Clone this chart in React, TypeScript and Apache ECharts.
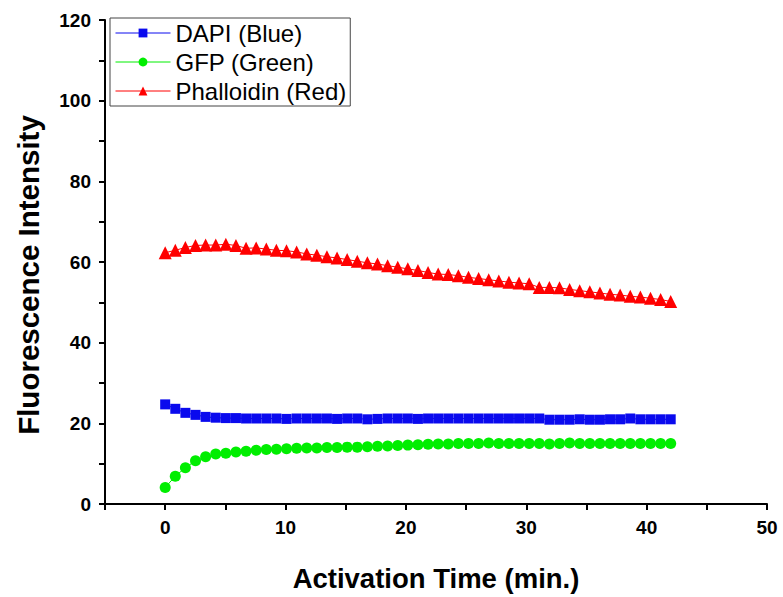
import React, { useEffect, useRef } from "react";
import * as echarts from "echarts";

const times = [
  0, 0.84, 1.68, 2.52, 3.36, 4.2, 5.04, 5.88, 6.72, 7.56,
  8.4, 9.24, 10.08, 10.92, 11.76, 12.6, 13.44, 14.28, 15.12, 15.96,
  16.8, 17.64, 18.48, 19.32, 20.16, 21.0, 21.84, 22.68, 23.52, 24.36,
  25.2, 26.04, 26.88, 27.72, 28.56, 29.4, 30.24, 31.08, 31.92, 32.76,
  33.6, 34.44, 35.28, 36.12, 36.96, 37.8, 38.64, 39.48, 40.32, 41.16, 42.0,
];

const dapi = [
  24.7, 23.6, 22.6, 22.1, 21.6, 21.4, 21.3, 21.3, 21.2, 21.2,
  21.2, 21.2, 21.1, 21.2, 21.2, 21.2, 21.2, 21.1, 21.2, 21.2,
  21.0, 21.1, 21.2, 21.2, 21.2, 21.1, 21.2, 21.2, 21.2, 21.2,
  21.2, 21.2, 21.2, 21.2, 21.2, 21.2, 21.2, 21.2, 20.9, 20.9,
  20.9, 21.0, 20.9, 20.9, 21.0, 21.0, 21.2, 21.0, 21.0, 21.0, 21.0,
];

const gfp = [
  4.1, 6.9, 9.0, 10.7, 11.7, 12.4, 12.6, 12.9, 13.1, 13.3,
  13.5, 13.6, 13.7, 13.8, 13.9, 13.9, 14.0, 14.0, 14.1, 14.1,
  14.2, 14.3, 14.4, 14.5, 14.6, 14.7, 14.8, 14.9, 14.9, 15.0,
  15.0, 15.0, 15.1, 15.0, 15.0, 15.0, 15.0, 15.0, 14.9, 15.0,
  15.1, 15.0, 15.0, 15.0, 15.0, 15.0, 15.0, 15.0, 15.0, 15.0, 15.0,
];

const phalloidin = [
  62.3, 62.9, 63.6, 64.1, 64.2, 64.2, 64.4, 64.1, 63.4, 63.5,
  63.2, 62.9, 62.8, 62.5, 62.0, 61.7, 61.3, 61.0, 60.6, 60.2,
  59.8, 59.5, 59.1, 58.7, 58.3, 57.9, 57.4, 57.0, 56.9, 56.6,
  56.2, 55.9, 55.6, 55.3, 55.0, 54.8, 54.6, 53.7, 53.7, 53.6,
  53.2, 52.9, 52.6, 52.3, 52.0, 51.8, 51.5, 51.3, 51.0, 50.7, 50.2,
];

const seriesNames = ["DAPI (Blue)", "GFP (Green)", "Phalloidin (Red)"];
const xAxisTitle = "Activation Time (min.)";
const yAxisTitle = "Fluorescence Intensity";
const xRange = [-5, 50];
const yRange = [0, 120];

const pair = (ys: number[]) => times.map((t, i) => [t, ys[i]]);

export default function App() {
  const ref = useRef<HTMLDivElement>(null);
  useEffect(() => {
    if (!ref.current) return;
    const chart = echarts.init(ref.current, undefined, { renderer: "svg" });
    const font = "'Liberation Sans', Arial, sans-serif";
    const axisLabel = {
      color: "#000",
      fontFamily: font,
      fontWeight: "bold" as const,
      fontSize: 19,
    };
    chart.setOption({
      animation: false,
      grid: { left: 105, right: 16, top: 20, bottom: 92 },
      legend: {
        orient: "vertical",
        left: 110,
        top: 18,
        padding: [3, 4, 3, 5],
        itemWidth: 55,
        itemHeight: 11,
        itemGap: 5,
        backgroundColor: "#fff",
        borderColor: "#444",
        borderWidth: 1,
        borderRadius: 0,
        lineStyle: { width: 1 },
        textStyle: { fontFamily: font, fontSize: 24, color: "#000" },
        data: seriesNames,
      },
      xAxis: {
        type: "value",
        min: xRange[0],
        max: xRange[1],
        interval: 5,
        name: xAxisTitle,
        nameLocation: "middle",
        nameGap: 60,
        nameTextStyle: { fontFamily: font, fontWeight: "bold", fontSize: 27.5, color: "#000" },
        axisLine: { show: true, onZero: false, lineStyle: { color: "#000", width: 2 } },
        axisTick: { show: true, length: 6, lineStyle: { color: "#000", width: 2 } },
        axisLabel: {
          ...axisLabel,
          margin: 14,
          formatter: (v: number) => (v % 10 === 0 ? String(v) : ""),
        },
        splitLine: { show: false },
      },
      yAxis: {
        type: "value",
        min: yRange[0],
        max: yRange[1],
        interval: 10,
        name: yAxisTitle,
        nameLocation: "middle",
        nameGap: 62,
        nameTextStyle: {
          fontFamily: font,
          fontWeight: "bold",
          fontSize: 29.5,
          color: "#000",
          padding: [0, 26, 0, 0],
        },
        axisLine: { show: true, onZero: false, lineStyle: { color: "#000", width: 2 } },
        axisTick: { show: true, length: 6, lineStyle: { color: "#000", width: 2 } },
        axisLabel: {
          ...axisLabel,
          margin: 14,
          formatter: (v: number) => (v % 20 === 0 ? String(v) : ""),
        },
        splitLine: { show: false },
      },
      series: [
        {
          name: seriesNames[0],
          type: "line",
          data: pair(dapi),
          symbol: "rect",
          symbolSize: 10,
          color: "#0a0aee",
          lineStyle: { width: 1, color: "#0a0aee" },
          itemStyle: { color: "#0a0aee" },
        },
        {
          name: seriesNames[1],
          type: "line",
          data: pair(gfp),
          symbol: "circle",
          symbolSize: 11,
          color: "#00ee00",
          lineStyle: { width: 1, color: "#00ee00" },
          itemStyle: { color: "#00ee00" },
        },
        {
          name: seriesNames[2],
          type: "line",
          data: pair(phalloidin),
          symbol: "triangle",
          symbolSize: 13,
          color: "#ff0000",
          lineStyle: { width: 1, color: "#ff0000" },
          itemStyle: { color: "#ff0000" },
        },
      ],
    });
    // Ensure the left axis line is visible: place it through the library's scales.
    const p0 = chart.convertToPixel({ xAxisIndex: 0, yAxisIndex: 0 }, [xRange[0], yRange[0]]);
    const p1 = chart.convertToPixel({ xAxisIndex: 0, yAxisIndex: 0 }, [xRange[0], yRange[1]]);
    if (p0 && p1) {
      chart.setOption({
        graphic: [
          {
            type: "line",
            shape: { x1: p0[0], y1: p0[1] + 1, x2: p1[0], y2: p1[1] },
            style: { stroke: "#000", lineWidth: 2 },
            z: 10,
          },
        ],
      });
    }
    return () => chart.dispose();
  }, []);
  return <div ref={ref} style={{ width: 783, height: 597, position: "absolute", left: 0, top: 0 }} />;
}
